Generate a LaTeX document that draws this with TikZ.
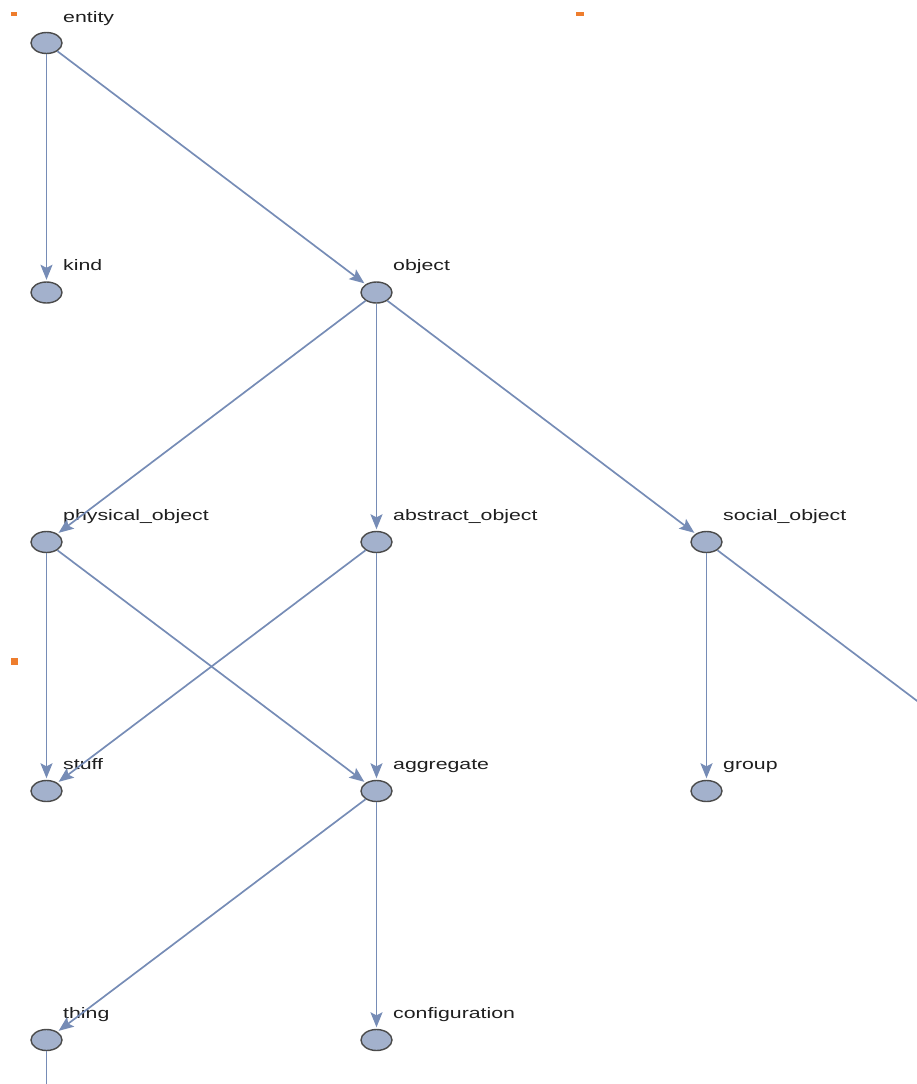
\documentclass[tikz,border=0pt]{standalone}
\usepackage{graphicx}
\usepackage{fontspec}
\setmainfont{Liberation Sans}
\usetikzlibrary{arrows.meta,shapes.geometric}
\definecolor{edgec}{RGB}{118,140,182}
\definecolor{nodef}{RGB}{163,177,204}
\definecolor{noded}{RGB}{75,75,75}
\definecolor{markc}{RGB}{238,125,45}
\newcommand\lab[1]{\scalebox{1.4}[1]{#1}}
\begin{document}
\begin{tikzpicture}[x=1pt,y=-1pt,
  vtx/.style={ellipse, draw=noded, fill=nodef, line width=1.4pt,
    minimum width=31pt, minimum height=21pt, inner sep=0pt},
  lbl/.style={anchor=base west, inner sep=0pt,
    font=\fontsize{15.2}{15.2}\selectfont, text=black!88},
  arc/.style={draw=edgec, line width=1.7pt, shorten >=1.5pt,
    -{Stealth[length=15pt,width=12pt,inset=3pt]}}]
\path[use as bounding box] (0,0) rectangle (917,1084);
\clip (0,0) rectangle (917,1084);
% small orange markers
\path[fill=markc] (11,12) rectangle (17,16);
\path[fill=markc] (576,12) rectangle (584,16);
\path[fill=markc] (11,658) rectangle (18,665);
% vertices
\node[vtx] (entity) at (46.5,43) {};
\node[vtx] (kind) at (46.5,292.5) {};
\node[vtx] (object) at (376.5,292.5) {};
\node[vtx] (physical) at (46.5,542) {};
\node[vtx] (abstract) at (376.5,542) {};
\node[vtx] (social) at (706.5,542) {};
\node[vtx] (stuff) at (46.5,791) {};
\node[vtx] (aggregate) at (376.5,791) {};
\node[vtx] (group) at (706.5,791) {};
\node[vtx] (thing) at (46.5,1040) {};
\node[vtx] (configuration) at (376.5,1040) {};
\coordinate (offright) at (1036.5,791);
\coordinate (offbottom) at (46.5,1290);
% labels
\node[lbl] (lentity) at (63,22) {\lab{entity}};
\node[lbl] (lkind) at (63,270.5) {\lab{kind}};
\node[lbl] (lobject) at (393,270.5) {\lab{object}};
\node[lbl] (lphysical) at (63,520) {\lab{physical\_object}};
\node[lbl] (labstract) at (393,520) {\lab{abstract\_object}};
\node[lbl] (lsocial) at (723,520) {\lab{social\_object}};
\node[lbl] (lstuff) at (63,769) {\lab{stuff}};
\node[lbl] (laggregate) at (393,769) {\lab{aggregate}};
\node[lbl] (lgroup) at (723,769) {\lab{group}};
\node[lbl] (lthing) at (63,1018) {\lab{thing}};
\node[lbl] (lconfiguration) at (393,1018) {\lab{configuration}};
% edges
\draw[arc] (entity) -- (kind);
\draw[arc] (entity) -- (object);
\draw[arc] (object) -- (physical);
\draw[arc] (object) -- (abstract);
\draw[arc] (object) -- (social);
\draw[arc] (physical) -- (stuff);
\draw[arc] (physical) -- (aggregate);
\draw[arc] (abstract) -- (stuff);
\draw[arc] (abstract) -- (aggregate);
\draw[arc] (social) -- (group);
\draw[arc] (social) -- (offright);
\draw[arc] (aggregate) -- (thing);
\draw[arc] (aggregate) -- (configuration);
\draw[arc] (thing) -- (offbottom);
\end{tikzpicture}
\end{document}
